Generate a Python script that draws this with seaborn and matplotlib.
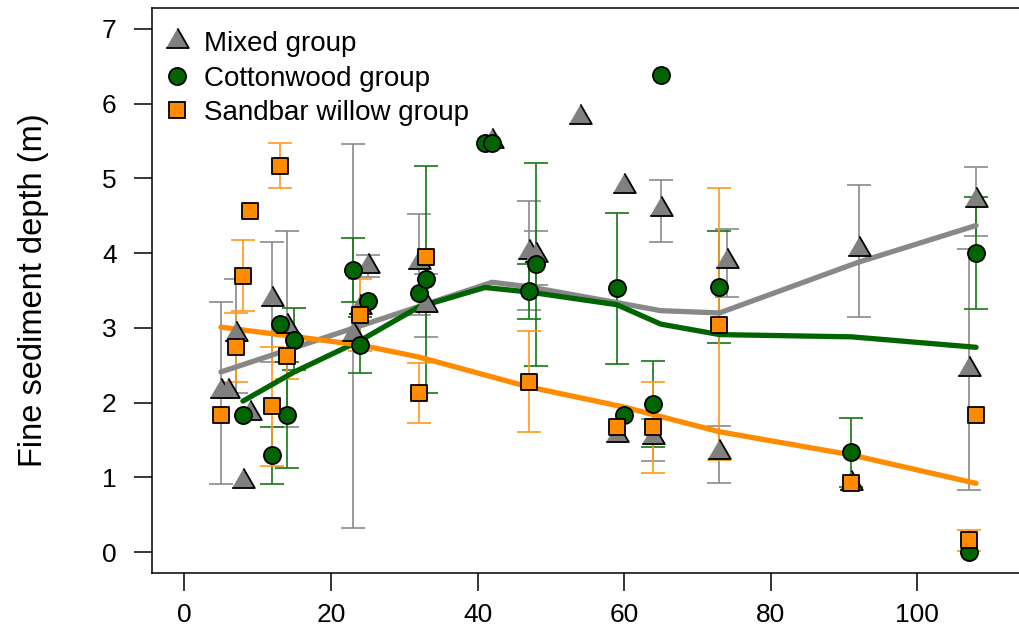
import numpy as np
import pandas as pd
import matplotlib
matplotlib.use("Agg")
import matplotlib.pyplot as plt
from matplotlib.lines import Line2D
import seaborn as sns

# ---------------- data ----------------
mixed_x = [5, 6, 7, 8, 9, 12, 14, 23, 24, 25, 32, 33, 42, 47, 48, 54, 59, 60, 64, 65, 73, 74, 91, 92, 107, 108]
mixed_y = [2.16, 2.16, 2.92, 0.95, 1.86, 3.38, 3.02, 2.92, 3.28, 3.83, 3.88, 3.30, 5.50, 4.01, 3.97, 5.82,
           1.56, 4.90, 1.54, 4.59, 1.34, 3.90, 0.92, 4.06, 2.45, 4.71]
mixed_lo = [0.91, np.nan, 2.13, np.nan, np.nan, 2.54, 1.67, 0.32, np.nan, 3.68, 3.17, 2.88, np.nan, 3.24, 3.57, np.nan,
            np.nan, np.nan, 1.22, 4.15, 0.93, 3.41, np.nan, 3.14, 0.83, 4.23]
mixed_hi = [3.35, np.nan, 3.65, np.nan, np.nan, 4.15, 4.30, 5.46, np.nan, 3.98, 4.52, 3.72, np.nan, 4.70, 4.29, np.nan,
            np.nan, np.nan, 1.78, 4.98, 1.69, 4.32, np.nan, 4.91, 4.05, 5.15]

cotton_x = [8, 12, 13, 14, 15, 23, 24, 25, 32, 33, 41, 42, 47, 48, 59, 60, 64, 65, 73, 91, 107, 108]
cotton_y = [1.83, 1.30, 3.05, 1.83, 2.84, 3.78, 2.77, 3.36, 3.46, 3.65, 5.48, 5.48, 3.50, 3.86, 3.54, 1.83,
            1.98, 6.39, 3.55, 1.34, 0.00, 4.00]
cotton_lo = [np.nan, 0.91, np.nan, 1.12, 2.44, 3.34, 2.40, np.nan, np.nan, 2.13, np.nan, np.nan, 3.12, 2.49, 2.51, np.nan,
             1.41, np.nan, 2.80, 0.87, np.nan, 3.25]
cotton_hi = [np.nan, 1.67, np.nan, 2.54, 3.26, 4.20, 3.14, np.nan, np.nan, 5.17, np.nan, np.nan, 3.86, 5.21, 4.54, np.nan,
             2.55, np.nan, 4.30, 1.79, np.nan, 4.75]

sand_x = [5, 7, 8, 9, 12, 13, 14, 24, 32, 33, 47, 59, 64, 73, 91, 107, 108]
sand_y = [1.83, 2.74, 3.70, 4.57, 1.95, 5.17, 2.62, 3.17, 2.13, 3.95, 2.28, 1.67, 1.67, 3.04, 0.93, 0.16, 1.83]
sand_lo = [np.nan, 2.28, 3.22, np.nan, 1.15, 4.87, 2.32, 2.69, 1.73, np.nan, 1.61, np.nan, 1.06, 1.23, np.nan, 0.02, np.nan]
sand_hi = [np.nan, 3.20, 4.18, np.nan, 2.74, 5.47, 2.92, 3.65, 2.53, np.nan, 2.96, np.nan, 2.28, 4.87, np.nan, 0.30, np.nan]

# fitted trend lines
mixed_fit_x = [5, 42, 47, 60, 65, 73, 92, 108]
mixed_fit_y = [2.41, 3.61, 3.55, 3.32, 3.23, 3.20, 3.88, 4.37]
cotton_fit_x = [8, 15, 24, 32, 41, 47, 59, 65, 73, 91, 108]
cotton_fit_y = [2.02, 2.41, 2.83, 3.28, 3.54, 3.48, 3.31, 3.05, 2.91, 2.88, 2.74]
sand_fit_x = [5, 24, 32, 47, 60, 73, 91, 108]
sand_fit_y = [3.01, 2.77, 2.61, 2.21, 1.94, 1.61, 1.30, 0.92]

group_names = ["Mixed group", "Cottonwood group", "Sandbar willow group"]
x_ticks = [0, 20, 40, 60, 80, 100]
y_ticks = [0, 1, 2, 3, 4, 5, 6, 7]
x_label = ""
y_label = "Fine sediment depth (m)"

# ---------------- style ----------------
sns.set_style("white")
plt.rcParams["font.family"] = ["Liberation Sans", "DejaVu Sans"]
plt.rcParams["text.color"] = "black"
plt.rcParams["axes.labelcolor"] = "black"
plt.rcParams["xtick.color"] = "black"
plt.rcParams["ytick.color"] = "black"

fill_cols = {"Mixed group": "#808080", "Cottonwood group": "#006400", "Sandbar willow group": "#FF8C00"}
bar_cols = {"Mixed group": "#8a8a8a", "Cottonwood group": "#137813", "Sandbar willow group": "#FF9a1a"}
line_cols = {"Mixed group": "#888888", "Cottonwood group": "#006400", "Sandbar willow group": "#FF8C00"}
tri = [(-1.0, -0.577), (1.0, -0.577), (0.0, 1.155)]
markers = {"Mixed group": tri, "Cottonwood group": "o", "Sandbar willow group": "s"}
msizes = {"Mixed group": 18.8, "Cottonwood group": 12.3, "Sandbar willow group": 12.0}

frames = []
for name, xs, ys, lo, hi in [
    ("Mixed group", mixed_x, mixed_y, mixed_lo, mixed_hi),
    ("Cottonwood group", cotton_x, cotton_y, cotton_lo, cotton_hi),
    ("Sandbar willow group", sand_x, sand_y, sand_lo, sand_hi),
]:
    frames.append(pd.DataFrame({"x": xs, "y": ys, "lo": lo, "hi": hi, "group": name}))
pts = pd.concat(frames, ignore_index=True)

fits = pd.concat([
    pd.DataFrame({"x": mixed_fit_x, "y": mixed_fit_y, "group": "Mixed group"}),
    pd.DataFrame({"x": cotton_fit_x, "y": cotton_fit_y, "group": "Cottonwood group"}),
    pd.DataFrame({"x": sand_fit_x, "y": sand_fit_y, "group": "Sandbar willow group"}),
], ignore_index=True)

W, H = 1019, 641
fig = plt.figure(figsize=(W / 100, H / 100), dpi=100)
ax = fig.add_axes([152 / W, 68 / H, 871 / W, 565 / H])

# error bars
for name in group_names:
    d = pts[(pts.group == name) & pts.lo.notna()]
    ax.errorbar(d.x, d.y, yerr=[d.y - d.lo, d.hi - d.y], fmt="none",
                ecolor=bar_cols[name], elinewidth=1.2, capsize=8.3, capthick=1.2, zorder=2)

# trend lines
for name in group_names:
    sns.lineplot(data=fits[fits.group == name], x="x", y="y", color=line_cols[name],
                 linewidth=3.8, ax=ax, zorder=3, solid_capstyle="round", estimator=None, sort=False)

# points
for name in group_names:
    d = pts[pts.group == name]
    sns.scatterplot(data=d, x="x", y="y", marker=markers[name], s=msizes[name] ** 2,
                    color=fill_cols[name], edgecolor="black", linewidth=1.3, ax=ax, zorder=4)

ax.set_xlim(-4.4, 114.4)
ax.set_ylim(-0.28, 7.28)
ax.set_xticks(x_ticks)
ax.set_yticks(y_ticks)
ax.set_xlabel(x_label)
ax.set_ylabel("")
ax.tick_params(axis="both", which="major", direction="out", length=13, width=1.1,
               color="black", labelsize=19, labelcolor="black", left=True, bottom=True)
ax.tick_params(axis="x", pad=8.5)
ax.tick_params(axis="y", pad=12.5)
for sp in ax.spines.values():
    sp.set_visible(True)
    sp.set_color("black")
    sp.set_linewidth(1.1)

fig.text(34 / W, 1 - 290.5 / H, y_label, rotation=90, ha="center", va="center",
         fontsize=23.5, color="black")

handles = [Line2D([], [], linestyle="none", marker=markers[n], markersize=msizes[n],
                  markerfacecolor=fill_cols[n], markeredgecolor="black", markeredgewidth=1.3)
           for n in group_names]
leg = ax.legend(handles, group_names, loc="upper left", bbox_to_anchor=(11.5 / 871, 1 - 23 / 565),
                frameon=False, borderaxespad=0, borderpad=0, handlelength=1.0, handletextpad=0.46,
                labelspacing=0.31, fontsize=20)
for t in leg.get_texts():
    t.set_color("black")

fig.savefig("out.png", dpi=100)
